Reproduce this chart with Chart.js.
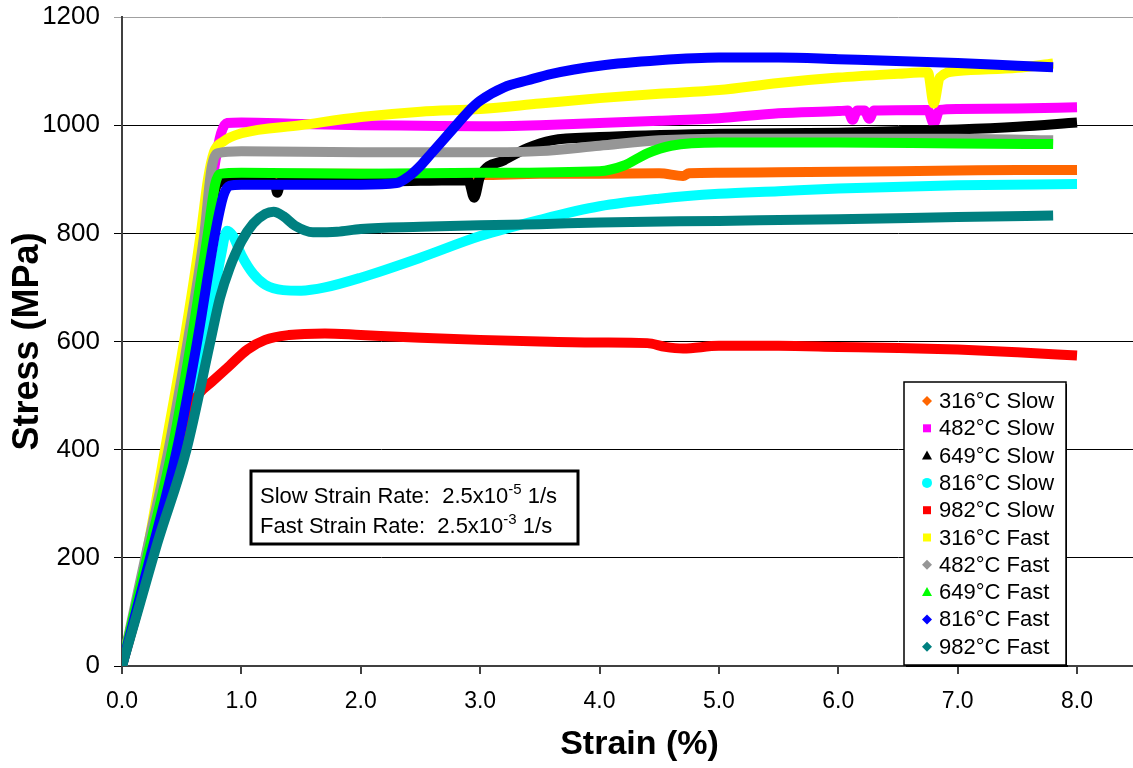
<!DOCTYPE html>
<html>
<head>
<meta charset="utf-8">
<script src="https://cdn.jsdelivr.net/npm/chart.js@4.4.1/dist/chart.umd.min.js"></script>
<style>
  html, body { margin: 0; padding: 0; background: #ffffff; overflow: hidden; }
  canvas { display: block; }
</style>
</head>
<body>
<canvas id="chart" width="1157" height="768"></canvas>
<script>
// Tensile test curves: stress vs. strain at five temperatures, two strain rates.
const seriesNames = ['316°C Slow', '482°C Slow', '649°C Slow', '816°C Slow', '982°C Slow',
                     '316°C Fast', '482°C Fast', '649°C Fast', '816°C Fast', '982°C Fast'];
const seriesColors = ['#FF6600', '#FF00FF', '#000000', '#00FFFF', '#FF0000',
                      '#FFFF00', '#969696', '#00FF00', '#0000FF', '#008080'];
const markerShapes = ['diamond', 'square', 'triangle', 'circle', 'square',
                      'square', 'diamond', 'triangle', 'diamond', 'diamond'];
const strainTicks = [0, 1, 2, 3, 4, 5, 6, 7, 8];
const stressTicks = [0, 200, 400, 600, 800, 1000, 1200];
const noteLines = [
  ['Slow Strain Rate:  2.5x10', '-5', ' 1/s'],
  ['Fast Strain Rate:  2.5x10', '-3', ' 1/s']
];

// [strain %, stress MPa]
const slow316 = [[0,0],[0.2,190],[0.42,400],[0.58,600],[0.72,800],[0.78,895],[0.84,906],[1.0,908],[1.5,910],[2.0,910],
  [2.5,909],[3.0,908],[3.5,910],[4.0,910],[4.5,911],[4.7,906],[4.75,911],[5.0,912],[5.5,913],[6.0,914],[6.5,915],[7.0,916],[7.5,917],[8.0,917]];
const slow482 = [[0,0],[0.2,190],[0.4,400],[0.56,600],[0.7,800],[0.78,930],[0.83,985],[0.88,1004],[1.0,1005],[1.5,1002],
  [2.0,1000],[2.5,999],[3.0,998],[3.5,1000],[4.0,1004],[4.5,1008],[5.0,1013],[5.5,1022],[6.0,1026],[6.08,1027],[6.12,1010],
  [6.16,1027],[6.22,1027],[6.26,1012],[6.3,1027],[6.75,1028],[6.8,1003],[6.85,1028],[7.0,1030],[7.5,1031],[8.0,1033]];
const slow649 = [[0,0],[0.2,185],[0.42,400],[0.58,600],[0.72,800],[0.78,880],[0.83,895],[1.0,897],[1.28,893],[1.3,875],
  [1.33,895],[2.0,895],[2.5,897],[2.9,898],[2.95,866],[3.0,905],[3.2,935],[3.4,958],[3.6,972],[4.0,978],[5.0,984],
  [6.0,986],[7.0,992],[7.5,997],[8.0,1005]];
const slow816 = [[0,0],[0.2,160],[0.5,400],[0.7,600],[0.83,760],[0.88,805],[0.93,795],[1.0,760],[1.1,725],[1.2,705],
  [1.35,695],[1.5,694],[1.7,700],[2.0,718],[2.5,755],[3.0,795],[3.5,825],[4.0,850],[4.5,864],[5.0,873],[5.5,878],
  [6.0,883],[7.0,889],[8.0,891]];
const slow982 = [[0,0],[0.15,120],[0.3,255],[0.45,390],[0.58,480],[0.65,505],[0.75,525],[0.9,555],[1.05,585],[1.2,603],
  [1.4,612],[1.7,615],[2.0,612],[2.5,607],[3.0,603],[3.5,600],[4.0,598],[4.4,597],[4.55,590],[4.7,587],[5.0,592],
  [5.5,592],[6.0,590],[6.5,588],[7.0,585],[7.5,580],[8.0,574]];
const fast316 = [[0,0],[0.2,200],[0.36,400],[0.52,600],[0.66,800],[0.72,900],[0.77,950],[0.85,970],[1.0,985],[1.5,1000],
  [2.0,1015],[2.5,1025],[3.0,1030],[3.5,1040],[4.0,1050],[4.5,1058],[5.0,1065],[5.5,1078],[6.0,1088],[6.5,1095],
  [6.75,1098],[6.8,1040],[6.85,1088],[7.0,1100],[7.5,1106],[7.8,1114]];
const fast482 = [[0,0],[0.2,205],[0.39,400],[0.55,600],[0.69,800],[0.75,920],[0.8,948],[1.0,952],[2.0,950],[3.0,950],
  [3.5,952],[4.0,962],[4.5,972],[5.0,975],[6.0,975],[7.0,975],[7.8,972]];
const fast649 = [[0,0],[0.2,190],[0.42,400],[0.58,600],[0.72,800],[0.78,890],[0.82,910],[1.0,912],[2.0,910],[3.0,912],
  [4.0,915],[4.2,925],[4.4,948],[4.6,962],[5.0,968],[6.0,968],[7.0,966],[7.8,965]];
const fast816 = [[0,0],[0.2,170],[0.46,400],[0.63,600],[0.78,800],[0.85,870],[0.9,888],[1.0,890],[1.5,890],[2.0,890],
  [2.3,893],[2.4,905],[2.5,925],[2.6,950],[2.7,975],[2.8,1000],[2.9,1025],[3.0,1045],[3.2,1070],[3.4,1083],[3.6,1095],
  [4.0,1110],[4.5,1120],[5.0,1125],[5.5,1125],[6.0,1122],[7.0,1115],[7.5,1110],[7.8,1107]];
const fast982 = [[0,0],[0.15,115],[0.3,230],[0.54,400],[0.74,600],[0.82,680],[0.9,735],[1.0,785],[1.1,818],[1.2,836],
  [1.27,840],[1.35,832],[1.45,814],[1.6,802],[1.8,803],[2.0,808],[2.5,812],[3.0,815],[3.5,817],[4.0,820],[5.0,823],
  [6.0,826],[7.0,830],[7.8,833]];

const seriesData = [slow316, slow482, slow649, slow816, slow982, fast316, fast482, fast649, fast816, fast982];

const FONT = "'Liberation Sans', Arial, sans-serif";

const datasets = seriesData.map((pts, i) => ({
  label: seriesNames[i],
  data: pts.map(p => ({ x: p[0], y: p[1] })),
  borderColor: seriesColors[i],
  backgroundColor: seriesColors[i],
  borderWidth: 10,
  pointRadius: 0,
  showLine: true,
  cubicInterpolationMode: 'monotone',
  order: seriesData.length - i
}));

function drawMarker(ctx, shape, x, y, r, color) {
  ctx.save();
  ctx.fillStyle = color;
  ctx.beginPath();
  if (shape === 'diamond') {
    ctx.moveTo(x, y - r); ctx.lineTo(x + r, y); ctx.lineTo(x, y + r); ctx.lineTo(x - r, y);
  } else if (shape === 'square') {
    ctx.rect(x - r * 0.8, y - r * 0.8, r * 1.6, r * 1.6);
  } else if (shape === 'triangle') {
    ctx.moveTo(x, y - r); ctx.lineTo(x + r, y + r * 0.8); ctx.lineTo(x - r, y + r * 0.8);
  } else {
    ctx.arc(x, y, r, 0, Math.PI * 2);
  }
  ctx.closePath();
  ctx.fill();
  ctx.restore();
}

// Legend box and strain-rate note, drawn on top of the plot
const overlayPlugin = {
  id: 'overlay',
  afterDraw(chart) {
    const ctx = chart.ctx;
    // legend
    const lx = 904, ly = 382, lw = 162, lh = 283;
    ctx.save();
    ctx.fillStyle = '#ffffff';
    ctx.fillRect(lx, ly, lw, lh);
    ctx.fillStyle = '#000000';
    ctx.fillRect(lx + 2, ly + lh, lw, 2);
    ctx.fillRect(lx + lw, ly + 2, 1, lh);
    ctx.strokeStyle = '#000000';
    ctx.lineWidth = 1.5;
    ctx.strokeRect(lx, ly, lw, lh);
    ctx.font = '22px ' + FONT;
    ctx.textBaseline = 'middle';
    ctx.textAlign = 'left';
    seriesNames.forEach((name, i) => {
      const cy = ly + 19 + i * 27.3;
      drawMarker(ctx, markerShapes[i], lx + 23, cy, 5, seriesColors[i]);
      ctx.fillStyle = '#000000';
      ctx.fillText(name, lx + 35, cy + 1);
    });
    ctx.restore();

    // strain-rate note
    const nx = 251, ny = 471, nw = 327, nh = 73;
    ctx.save();
    ctx.fillStyle = '#ffffff';
    ctx.fillRect(nx, ny, nw, nh);
    ctx.strokeStyle = '#000000';
    ctx.lineWidth = 3;
    ctx.strokeRect(nx, ny, nw, nh);
    ctx.textBaseline = 'alphabetic';
    noteLines.forEach((parts, i) => {
      const by = ny + 32 + i * 30;
      let x = nx + 9;
      ctx.font = '22px ' + FONT;
      ctx.fillStyle = '#000000';
      ctx.fillText(parts[0], x, by);
      x += ctx.measureText(parts[0]).width;
      ctx.font = '15px ' + FONT;
      ctx.fillText(parts[1], x, by - 9);
      x += ctx.measureText(parts[1]).width;
      ctx.font = '22px ' + FONT;
      ctx.fillText(parts[2], x, by);
    });
    ctx.restore();
  }
};

new Chart(document.getElementById('chart'), {
  type: 'scatter',
  data: { datasets },
  options: {
    responsive: false,
    animation: false,
    layout: { padding: { top: 17, left: 0, right: 0, bottom: 0 } },
    plugins: { legend: { display: false }, tooltip: { enabled: false } },
    scales: {
      x: {
        type: 'linear',
        min: 0,
        max: 8.67,
        afterBuildTicks: s => { s.ticks = strainTicks.map(v => ({ value: v })); },
        afterFit: s => { s.height = 102; s.paddingLeft = 0; s.paddingRight = 0; },
        grid: { drawOnChartArea: false, drawTicks: true, tickLength: 8, color: '#404040', lineWidth: 2 },
        border: { color: '#404040', width: 2 },
        ticks: { font: { family: FONT, size: 23 }, color: '#000000', padding: 14, maxRotation: 0,
                 callback: v => Number(v).toFixed(1) },
        title: { display: true, text: 'Strain (%)', color: '#000000',
                 font: { family: FONT, size: 34, weight: 'bold' }, padding: { top: 0, bottom: 3 } }
      },
      y: {
        type: 'linear',
        min: 0,
        max: 1200,
        afterBuildTicks: s => { s.ticks = stressTicks.map(v => ({ value: v })); },
        afterFit: s => { s.width = 122; s.paddingTop = 0; s.paddingBottom = 0; },
        grid: { color: c => (c.tick && c.tick.value === 1200) ? '#a0a0a0' : '#000000',
                lineWidth: 1, tickLength: 8, drawTicks: true },
        border: { color: '#404040', width: 2 },
        ticks: { font: { family: FONT, size: 26 }, color: '#000000', padding: 14,
                 callback: v => String(v) },
        title: { display: true, text: 'Stress (MPa)', color: '#000000',
                 font: { family: FONT, size: 36, weight: 'bold' }, padding: { top: 6, bottom: 0 } }
      }
    }
  },
  plugins: [overlayPlugin]
});
</script>
</body>
</html>
